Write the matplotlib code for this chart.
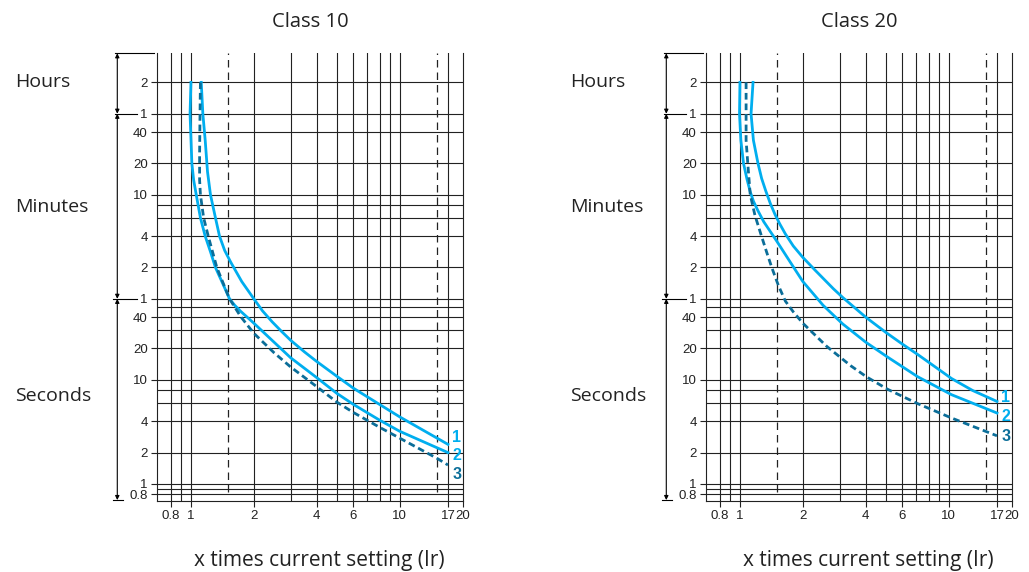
import matplotlib
matplotlib.use('Agg')
import matplotlib.pyplot as plt
from matplotlib.transforms import blended_transform_factory

# ---- data (x = multiple of Ir, t = tripping time in seconds) ----
c10_x1 = [1.12, 1.14, 1.17, 1.20, 1.24, 1.31, 1.37, 1.45, 1.55, 1.75, 2.0, 2.2, 2.45, 2.7, 3.0, 3.5, 4.0, 5.0, 6.0, 8.0, 10.0, 17.0]
c10_t1 = [7200, 3600, 2000, 1000, 600, 360, 240, 175, 135, 88, 60, 46, 36, 29.5, 24, 18.5, 15, 10.8, 8.3, 5.8, 4.4, 2.4]
c10_x2 = [1.0, 0.99, 1.01, 1.03, 1.06, 1.11, 1.17, 1.24, 1.31, 1.42, 1.53, 1.62, 1.73, 2.0, 3.0, 4.0, 5.0, 6.0, 8.0, 10.0, 17.0]
c10_t2 = [7200, 3600, 1200, 832, 600, 360, 240, 170, 120, 84, 60, 52, 45.5, 35, 16.3, 10.5, 7.4, 5.8, 4.1, 3.2, 2.0]
c10_x3 = [1.11, 1.105, 1.10, 1.10, 1.11, 1.15, 1.21, 1.33, 1.53, 1.73, 2.0, 2.5, 3.0, 4.0, 5.0, 6.0, 8.0, 10.0, 15.0, 17.0]
c10_t3 = [7200, 3600, 1500, 832, 600, 360, 240, 120, 60, 40.5, 28, 18.2, 13.3, 8.6, 6.1, 4.85, 3.5, 2.75, 1.77, 1.52]

c20_x1 = [1.155, 1.13, 1.16, 1.22, 1.27, 1.33, 1.40, 1.47, 1.55, 1.65, 1.8, 2.0, 2.3, 2.8, 3.1, 4.0, 5.0, 6.0, 7.1, 10.3, 13.0, 17.0]
c20_t1 = [7200, 3600, 2000, 1200, 860, 650, 490, 390, 315, 252, 193, 150, 112, 75, 62, 40, 28.5, 22, 17.5, 10.3, 7.9, 6.2]
c20_x2 = [1.0, 0.995, 1.01, 1.04, 1.08, 1.12, 1.16, 1.22, 1.30, 1.50, 1.75, 2.0, 2.5, 3.1, 4.0, 5.1, 7.1, 10.3, 17.0]
c20_t2 = [7200, 3600, 2000, 1200, 850, 640, 520, 420, 330, 215, 133, 88, 52, 34.5, 23, 16.5, 10.7, 7.2, 4.8]
c20_x3 = [1.07, 1.07, 1.07, 1.09, 1.12, 1.18, 1.26, 1.34, 1.42, 1.53, 1.65, 1.8, 2.0, 2.6, 3.4, 4.06, 5.1, 7.1, 10.3, 17.0]
c20_t3 = [7200, 3600, 2000, 1200, 600, 380, 250, 170, 120, 80, 57, 45, 35, 21, 13.6, 10.6, 8.1, 5.9, 4.3, 2.9]

xtick_vals = [0.8, 1, 2, 4, 6, 10, 17, 20]
xtick_labels = ['0.8', '1', '2', '4', '6', '10', '17', '20']
xgrid = [0.8, 0.9, 1, 2, 3, 4, 5, 6, 7, 8, 9, 10, 17]
xdash = [1.5, 15]
ytick_vals = [7200, 3600, 2400, 1200, 600, 240, 120, 60, 40, 20, 10, 4, 2, 1, 0.8]
ytick_labels = ['2', '1', '40', '20', '10', '4', '2', '1', '40', '20', '10', '4', '2', '1', '0.8']
ygrid = [7200, 3600, 2400, 1200, 600, 480, 360, 240, 120, 60, 50, 40, 30, 20, 10, 8, 6, 4, 2, 1, 0.9, 0.8]
units = ['Hours', 'Minutes', 'Seconds']
unit_t = [7200, 460, 7]

LIGHT = '#00AEEF'
DARK = '#0B6E99'
GRID = '#222222'
TXT = 'Open Sans'
NUM = 'Liberation Sans'

W, H = 1029, 572
fig = plt.figure(figsize=(W / 100, H / 100), dpi=100)


def panel(left_px, title, curves, offs, unit_x):
    ax = fig.add_axes([left_px / W, 1 - 500.7 / H, 305.4 / W, 447.4 / H])
    ax.set_xscale('log')
    ax.set_yscale('log')
    ax.set_xlim(0.69, 20)
    ax.set_ylim(0.69, 13700)
    ax.minorticks_off()
    for x in xgrid:
        ax.axvline(x, color=GRID, lw=0.8, zorder=1)
    for x in xdash:
        ax.vlines(x, 0.84, 13700, color=GRID, lw=0.9, linestyles=(0, (6, 4)), zorder=1)
    for y in ygrid:
        ax.axhline(y, color=GRID, lw=0.8, zorder=1)
    ax.spines['top'].set_visible(False)
    for s in ['left', 'right', 'bottom']:
        ax.spines[s].set_linewidth(0.8)
        ax.spines[s].set_color(GRID)
    ax.set_xticks(xtick_vals, labels=xtick_labels)
    ax.set_yticks(ytick_vals, labels=ytick_labels)
    ax.tick_params(direction='out', length=4, width=0.8, color=GRID, pad=3, labelsize=9.5)
    for lab in ax.get_xticklabels() + ax.get_yticklabels():
        lab.set_fontfamily(NUM)
        lab.set_color('#222222')

    cols = [LIGHT, LIGHT, DARK]
    for i, (xs, ts) in enumerate(curves):
        if i == 2:
            ax.plot(xs, ts, color=DARK, lw=2.0, dashes=(2.4, 1.4), zorder=3, clip_on=False)
        else:
            ax.plot(xs, ts, color=LIGHT, lw=2.0, zorder=3, clip_on=False)
        ax.annotate(str(i + 1), xy=(xs[-1], ts[-1]), xytext=offs[i], textcoords='offset points',
                    ha='left', va='center', color=cols[i], fontsize=11.5, fontweight='bold',
                    family=NUM, annotation_clip=False)

    # bracket with arrows on the left
    tr = blended_transform_factory(ax.transAxes, ax.transData)
    xb = -0.131
    segs = [(13700, 3600), (3600, 60), (60, 0.70)]
    for a, b in segs:
        ax.annotate('', xy=(xb, b), xytext=(xb, a), xycoords=tr, textcoords=tr,
                    arrowprops=dict(arrowstyle='<|-|>', lw=0.8, color='k', mutation_scale=6,
                                    shrinkA=0, shrinkB=0), annotation_clip=False)
    for x0, x1, y in [(-0.1385, -0.011, 13700), (-0.1385, -0.066, 3600),
                      (-0.145, -0.067, 60), (-0.145, -0.112, 0.70)]:
        ax.plot([x0, x1], [y, y], transform=tr, color='k', lw=0.8, clip_on=False)

    for name, t in zip(units, unit_t):
        ax.text(unit_x, t, name, transform=tr, ha='left', va='center', fontsize=14, family=TXT,
                color='#222222')
    ax.text(0.5, 1.07, title, transform=ax.transAxes, ha='center', va='center', fontsize=14.5,
            family=TXT, color='#222222')
    ax.text(0.53, -0.133, 'x times current setting (Ir)', transform=ax.transAxes, ha='center',
            va='center', fontsize=15, family=TXT, color='#222222')
    return ax


ax1 = panel(157.3, 'Class 10', [(c10_x1, c10_t1), (c10_x2, c10_t2), (c10_x3, c10_t3)],
            [(3, 4.6), (3, -2.4), (3, -7.2)], -0.466)
ax2 = panel(706.3, 'Class 20', [(c20_x1, c20_t1), (c20_x2, c20_t2), (c20_x3, c20_t3)],
            [(3, 2.5), (3, -2.2), (3, -0.8)], -0.446)

fig.savefig('out.png', dpi=100)
